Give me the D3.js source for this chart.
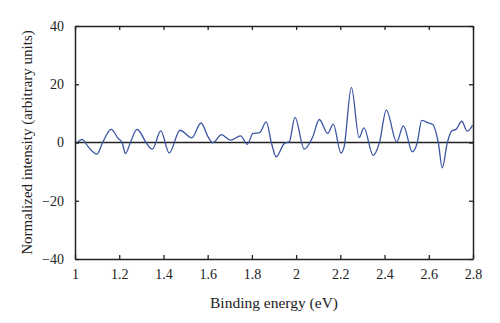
<!DOCTYPE html>
<html><head><meta charset="utf-8">
<script src="https://cdn.jsdelivr.net/npm/d3@7"></script>
<style>
html,body{margin:0;padding:0;background:#fff;}
svg{display:block;}
text{font-family:"Liberation Serif","Times New Roman",serif;fill:#222;}
</style></head>
<body>
<svg id="chart" width="500" height="323"></svg>
<script>
const energy = [1.000,1.009,1.032,1.060,1.100,1.125,1.164,1.194,1.213,1.228,1.253,1.280,1.294,1.321,1.350,1.388,1.426,1.475,1.528,1.570,1.602,1.624,1.662,1.704,1.749,1.779,1.805,1.835,1.865,1.888,1.910,1.947,1.969,1.995,2.037,2.075,2.105,2.143,2.168,2.203,2.217,2.250,2.285,2.307,2.348,2.377,2.408,2.455,2.485,2.526,2.548,2.568,2.598,2.618,2.643,2.661,2.684,2.704,2.723,2.749,2.774,2.798];
const intensity = [-0.3,0.0,1.1,-1.5,-4.0,0.0,4.5,1.5,0.0,-3.8,0.5,4.5,3.6,0.0,-2.3,4.0,-3.6,4.2,1.6,6.7,1.9,-0.1,2.7,0.8,2.3,-0.6,3.1,3.4,7.1,0.0,-4.9,-0.3,0.2,8.6,-2.3,1.9,7.9,3.1,6.3,-3.6,-1.5,18.9,1.7,5.0,-4.4,0.0,11.1,0.2,5.7,-3.2,0.0,7.6,6.7,6.2,0.0,-8.7,0.0,4.0,4.5,7.3,3.9,5.9];
const xTicks = [1,1.2,1.4,1.6,1.8,2,2.2,2.4,2.6,2.8];
const yTicks = [-40,-20,0,20,40];
const xLabel = "Binding energy (eV)";
const yLabel = "Normalized intensity (arbitrary units)";

const svg = d3.select("#chart");
const L = 75, R = 473, T = 26, B = 259;
const x = d3.scaleLinear().domain([1, 2.8]).range([L, R]);
const y = d3.scaleLinear().domain([-40, 40]).range([B, T]);
const data = energy.map((e, i) => [e, intensity[i]]);

// zero line
svg.append("line").attr("x1", L).attr("x2", R).attr("y1", y(0)).attr("y2", y(0))
  .attr("stroke", "#222").attr("stroke-width", 1.3);

// curve
svg.append("path").datum(data)
  .attr("d", d3.line().x(d => x(d[0])).y(d => y(d[1])).curve(d3.curveMonotoneX))
  .attr("fill", "none").attr("stroke", "#3b55a3").attr("stroke-width", 1.3);

const tk = 4;
const fmt = d => d3.format("")(d);
// bottom axis
const xb = svg.append("g").attr("transform", `translate(0,${B})`)
  .call(d3.axisBottom(x).tickValues(xTicks).tickSizeInner(-tk).tickSizeOuter(0).tickPadding(10).tickFormat(fmt));
// top axis
const xt = svg.append("g").attr("transform", `translate(0,${T})`)
  .call(d3.axisTop(x).tickValues(xTicks).tickSizeInner(-tk).tickSizeOuter(0).tickFormat(""));
// left axis
const yl = svg.append("g").attr("transform", `translate(${L},0)`)
  .call(d3.axisLeft(y).tickValues(yTicks).tickSizeInner(-tk).tickSizeOuter(0).tickPadding(11).tickFormat(fmt));
// right axis
const yr = svg.append("g").attr("transform", `translate(${R},0)`)
  .call(d3.axisRight(y).tickValues(yTicks).tickSizeInner(-tk).tickSizeOuter(0).tickFormat(""));

[xb, xt, yl, yr].forEach(g => {
  g.selectAll("path.domain").attr("stroke", "#222").attr("stroke-width", 1.5);
  g.selectAll(".tick line").attr("stroke", "#222").attr("stroke-width", 1.3);
  g.selectAll("text").attr("font-family", '"Liberation Serif", serif').attr("font-size", 14).attr("fill", "#222");
});

svg.append("text").attr("x", (L + R) / 2).attr("y", 308).attr("text-anchor", "middle")
  .attr("font-size", 15.5).text(xLabel);
svg.append("text").attr("transform", `translate(32,${(T + B) / 2}) rotate(-90)`)
  .attr("text-anchor", "middle").attr("font-size", 15).text(yLabel);
</script>
</body></html>
